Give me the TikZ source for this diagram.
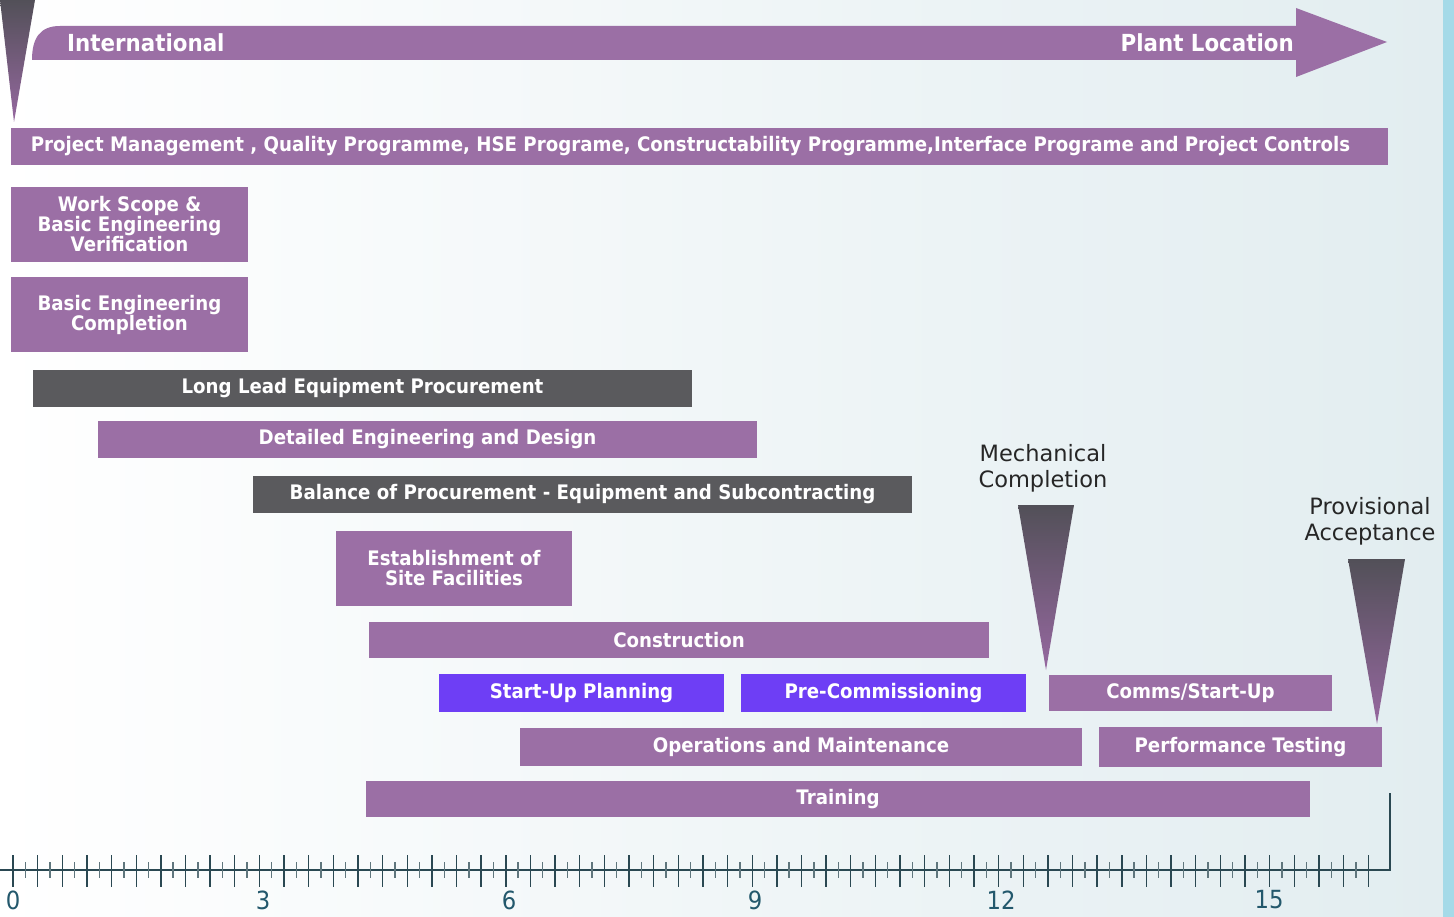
\documentclass[tikz,border=0pt]{standalone}
\usepackage{fontspec}
\setmainfont{DejaVu Sans}
\newfontfamily\barfont{DejaVu Sans}[FakeStretch=0.91]

\definecolor{barpurple}{RGB}{155,111,165}
\definecolor{bargray}{RGB}{90,90,93}
\definecolor{barblue}{RGB}{110,62,245}
\definecolor{axisteal}{RGB}{42,72,82}
\definecolor{numteal}{RGB}{35,88,108}
\definecolor{bgblue}{RGB}{226,237,240}
\definecolor{stripcyan}{RGB}{165,218,232}
\definecolor{tipgray}{RGB}{82,80,88}
\definecolor{tippurple}{RGB}{150,104,160}

\tikzset{
	task/.style={fill=barpurple, text=white, inner sep=0pt, align=center,
		font=\barfont\bfseries\fontsize{20}{20}\selectfont},
	graytask/.style={task, fill=bargray},
	bluetask/.style={task, fill=barblue},
	arrowtext/.style={text=white, inner sep=0pt, font=\barfont\bfseries\fontsize{23.5}{24}\selectfont},
	milestone/.style={top color=tipgray, bottom color=tippurple},
	mlabel/.style={text=black!85, inner sep=0pt, align=center, font=\fontsize{22.5}{26}\selectfont},
	axisline/.style={draw=axisteal, line width=1.6pt},
	majortick/.style={draw=axisteal, line width=1.4pt},
	minortick/.style={draw=axisteal!75, line width=1.4pt},
	num/.style={text=numteal, inner sep=0pt, font=\barfont\fontsize{25}{25}\selectfont}
}

\begin{document}
\begin{tikzpicture}[x=1pt,y=-1pt]
		\useasboundingbox (0,0) rectangle (1454,917);
		% background
		\shade[left color=white, right color=bgblue] (0,0) rectangle (1443,917);
		\fill[stripcyan] (1443,0) rectangle (1454,917);
		% location arrow and start marker
		\fill[barpurple] (32,60) .. controls (32,38) and (40,26) .. (60,26) -- (1296,26) -- (1296,8) -- (1387,42) -- (1296,77) -- (1296,60) -- cycle;
		\node[arrowtext, anchor=west] (intl) at (67,43) {International};
		\node[arrowtext, anchor=east] (plant) at (1294,43) {Plant Location};
		\shade[milestone] (0,0) -- (35,0) -- (14,122) -- cycle;
		% activities
		\node[task, minimum width=1377pt, minimum height=37pt] (pm) at (699.5,146.5) {Project Management , Quality Programme, HSE Programe, Constructability Programme,Interface Programe and Project Controls\hspace*{18pt}};
		\node[task, minimum width=237pt, minimum height=75pt] (scope) at (129.5,224.5) {Work Scope \&\\Basic Engineering\\Verification};
		\node[task, minimum width=237pt, minimum height=75pt] (basic) at (129.5,314.5) {Basic Engineering\\Completion};
		\node[graytask, minimum width=659pt, minimum height=37pt] (longlead) at (362.5,388.5) {Long Lead Equipment Procurement};
		\node[task, minimum width=659pt, minimum height=37pt] (detail) at (427.5,439.5) {Detailed Engineering and Design};
		\node[graytask, minimum width=659pt, minimum height=37pt] (balance) at (582.5,494.5) {Balance of Procurement - Equipment and Subcontracting};
		\node[task, minimum width=236pt, minimum height=75pt] (site) at (454,568.5) {Establishment of\\Site Facilities};
		\node[task, minimum width=620pt, minimum height=36pt] (constr) at (679,640) {Construction};
		\node[bluetask, minimum width=285pt, minimum height=38pt] (startup) at (581.5,693) {Start-Up Planning};
		\node[bluetask, minimum width=285pt, minimum height=38pt] (precomm) at (883.5,693) {Pre-Commissioning};
		\node[task, minimum width=283pt, minimum height=36pt] (comms) at (1190.5,693) {Comms/Start-Up};
		\node[task, minimum width=562pt, minimum height=38pt] (opsmaint) at (801,747) {Operations and Maintenance};
		\node[task, minimum width=283pt, minimum height=40pt] (perftest) at (1240.5,747) {Performance Testing};
		\node[task, minimum width=944pt, minimum height=36pt] (training) at (838,799) {Training};
		% milestones
		\def\mechtri{(1018,505) -- (1074,505) -- (1046,670) -- cycle}
		\def\provtri{(1348,559) -- (1405,559) -- (1377,724) -- cycle}
		\shade[milestone] \mechtri;
		\shade[milestone] \provtri;
		\node[mlabel] (mech) at (1043,468) {Mechanical\\Completion};
		\node[mlabel] (prov) at (1370,521) {Provisional\\Acceptance};
		% time axis
		\draw[axisline] (0,870) -- (1390,870) -- (1390,793);
		\foreach \k in {0,...,55}
			\draw[majortick] (13+24.64*\k,855) -- ++(0,32);
		\foreach \k in {0,...,54}
			\draw[minortick] (25.32+24.64*\k,862) -- ++(0,16);
		\foreach \lab/\xpos in {0/13,3/263,6/509,9/755,12/1001,15/1269}
			\node[num] (m\lab) at (\xpos,900) {\lab};
	\end{tikzpicture}
\end{document}
